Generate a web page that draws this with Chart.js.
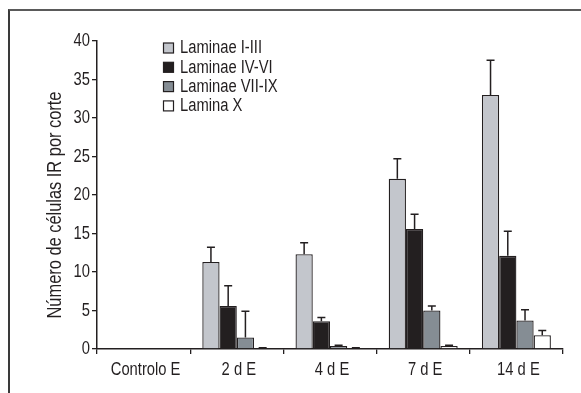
<!DOCTYPE html>
<html>
<head>
<meta charset="utf-8">
<script src="https://cdn.jsdelivr.net/npm/chart.js@4.4.1/dist/chart.umd.min.js"></script>
<style>
  html, body { margin: 0; padding: 0; background: #fff; }
  #wrap { position: relative; width: 581px; height: 393px; overflow: hidden; }
  #frame { position: absolute; left: 8px; top: 9px; width: 600px; height: 400px;
           border-top: 2px solid #5a5a5a; border-left: 2px solid #3a3a3a; }
  canvas { position: absolute; left: 0; top: 0; }
</style>
</head>
<body>
<div id="wrap">
  <div id="frame"></div>
  <canvas id="c" width="581" height="393"></canvas>
</div>
<script>
const categories = ["Controlo E", "2 d E", "4 d E", "7 d E", "14 d E"];
const seriesNames = ["Laminae I-III", "Laminae IV-VI", "Laminae VII-IX", "Lamina X"];
const laminaeI_III   = [0, 11.3, 12.3, 22.1, 33.0];
const laminaeIV_VI   = [0, 5.6, 3.6, 15.6, 12.1];
const laminaeVII_IX  = [0, 1.5, 0.4, 5.0, 3.7];
const laminaX        = [0, 0.1, 0.1, 0.4, 1.8];
const errI_III  = [0, 1.9, 1.5, 2.6, 4.5];
const errIV_VI  = [0, 2.6, 0.5, 1.9, 3.2];
const errVII_IX = [0, 3.4, 0.1, 0.6, 1.4];
const errX      = [0, 0.05, 0.05, 0.1, 0.6];
const yTicks = [0, 5, 10, 15, 20, 25, 30, 35, 40];
const yTitle = "Número de células IR por corte";

const FONT = "'Liberation Sans', Arial, sans-serif";
const SX = 0.82; // horizontal condensing to mimic a condensed face
const INK = '#231f20';
const fills = ['#c3c6cc', '#231f20', '#858d94', '#ffffff'];
const values = [laminaeI_III, laminaeIV_VI, laminaeVII_IX, laminaX];
const errors = [errI_III, errIV_VI, errVII_IX, errX];

function condensedText(ctx, text, x, y, align, size, rot) {
  ctx.save();
  ctx.translate(x, y);
  if (rot) ctx.rotate(rot);
  ctx.scale(SX, 1);
  ctx.font = size + "px " + FONT;
  ctx.textAlign = align;
  ctx.textBaseline = 'middle';
  ctx.fillStyle = INK;
  ctx.fillText(text, 0, 0);
  ctx.restore();
}

const errorBars = {
  id: 'errorBars',
  afterDatasetsDraw(chart) {
    const ctx = chart.ctx;
    const y = chart.scales.y;
    ctx.save();
    ctx.strokeStyle = INK;
    ctx.lineWidth = 1.5;
    chart.data.datasets.forEach((ds, di) => {
      const meta = chart.getDatasetMeta(di);
      meta.data.forEach((bar, i) => {
        const e = ds.err[i];
        if (!e) return;
        const top = y.getPixelForValue(ds.data[i]);
        const end = y.getPixelForValue(ds.data[i] + e);
        ctx.beginPath();
        ctx.moveTo(bar.x, top);
        ctx.lineTo(bar.x, end);
        ctx.moveTo(bar.x - 4, end);
        ctx.lineTo(bar.x + 4, end);
        ctx.stroke();
      });
    });
    ctx.restore();
  }
};

const textPlugin = {
  id: 'condensedText',
  afterDraw(chart) {
    const ctx = chart.ctx;
    const xs = chart.scales.x, ys = chart.scales.y;
    yTicks.forEach(v => condensedText(ctx, String(v), 90, ys.getPixelForValue(v) + 0.5, 'right', 18));
    categories.forEach((c, i) => condensedText(ctx, c, xs.getPixelForTick(i) + 2, 370, 'center', 18));
    condensedText(ctx, yTitle, 55, 205, 'center', 20, -Math.PI / 2);
    chart.data.datasets.forEach((ds, i) => {
      const yy = 48.5 + i * 19.3;
      ctx.save();
      ctx.fillStyle = ds.backgroundColor;
      ctx.fillRect(163.5, yy - 5.5, 10, 10);
      ctx.strokeStyle = INK;
      ctx.lineWidth = 1.2;
      ctx.strokeRect(163.5, yy - 5.5, 10, 10);
      ctx.restore();
      condensedText(ctx, ds.label, 180, yy, 'left', 18);
    });
  }
};

new Chart(document.getElementById('c'), {
  type: 'bar',
  data: {
    labels: categories,
    datasets: seriesNames.map((n, i) => ({
      label: n,
      data: values[i],
      err: errors[i],
      backgroundColor: fills[i],
      borderColor: INK,
      borderWidth: 1.3,
      borderSkipped: 'bottom',
      categoryPercentage: 0.74,
      barPercentage: 1.0
    }))
  },
  options: {
    responsive: false,
    animation: false,
    layout: { padding: { top: 41, right: 18, bottom: 0, left: 0 } },
    plugins: { legend: { display: false }, tooltip: { enabled: false } },
    scales: {
      x: {
        grid: { offset: true, drawOnChartArea: false, tickLength: 5, color: INK, lineWidth: 1.3 },
        border: { color: INK, width: 1.5 },
        ticks: { display: false },
        afterFit(s) { s.height = 44; }
      },
      y: {
        min: 0, max: 40,
        afterBuildTicks(s) { s.ticks = yTicks.map(v => ({ value: v })); },
        grid: { drawOnChartArea: false, tickLength: 5, color: INK, lineWidth: 1.3 },
        border: { color: INK, width: 1.5 },
        ticks: { display: false },
        title: { display: false, text: yTitle },
        afterFit(s) { s.width = 97; }
      }
    }
  },
  plugins: [errorBars, textPlugin]
});
</script>
</body>
</html>
